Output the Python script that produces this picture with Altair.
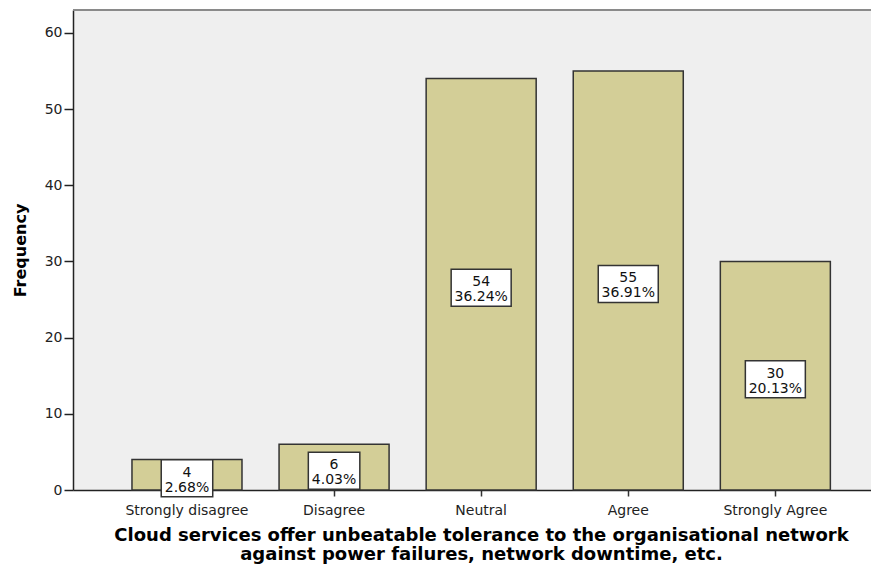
import altair as alt
import pandas as pd

categories = ["Strongly disagree", "Disagree", "Neutral", "Agree", "Strongly Agree"]
counts = [4, 6, 54, 55, 30]
percents = ["2.68%", "4.03%", "36.24%", "36.91%", "20.13%"]
y_ticks = [0, 10, 20, 30, 40, 50, 60]

df = pd.DataFrame({"cat": categories, "count": counts, "pct": percents})

FONT = "DejaVu Sans"
W, H = 798, 480

xscale = alt.Scale(domain=categories, paddingInner=0.252, paddingOuter=0.3386, align=0.592)
yscale = alt.Scale(domain=[0, 63], nice=False, zero=True)

x_axis = alt.Axis(
    title=["Cloud services offer unbeatable tolerance to the organisational network",
           "against power failures, network downtime, etc."],
    labelAngle=0, labelFont=FONT, labelFontSize=14, labelColor="#222",
    labelPadding=7, tickSize=6, tickColor="#333", tickWidth=1.5,
    domainColor="#222", domainWidth=1.5,
    titleFont=FONT, titleFontSize=18, titleFontWeight="bold",
    titleLineHeight=19, titlePadding=9, titleColor="#000", titleX=408,
)
y_axis = alt.Axis(
    title="Frequency", values=y_ticks, grid=False,
    labelFont=FONT, labelFontSize=14, labelColor="#222", labelPadding=2,
    tickSize=9, tickColor="#222", tickWidth=1.5,
    domainColor="#222", domainWidth=1.5,
    titleFont=FONT, titleFontSize=16, titleFontWeight="bold",
    titlePadding=16, titleColor="#000",
)

base = alt.Chart(df)

bars = base.mark_bar(fill="#D3CE97", stroke="#333", strokeWidth=1.5).encode(
    x=alt.X("cat:N", sort=categories, scale=xscale, axis=x_axis),
    y=alt.Y("count:Q", scale=yscale, axis=y_axis),
)

calc = base.transform_calculate(
    cnt="'' + datum.count",
    w="8.5 * length(datum.pct) + 9",
).transform_calculate(
    path="'M' + (-datum.w/2) + ',-18.5H' + (datum.w/2) + 'V18.5H' + (-datum.w/2) + 'Z'",
).transform_calculate(
    count="datum.count / 2",
)

xn = alt.X("cat:N", sort=categories, scale=xscale)
yh = alt.Y("count:Q", scale=yscale)

boxes = calc.mark_point(
    filled=True, fill="white", stroke="#333", strokeWidth=1.5, opacity=1, yOffset=3.5
).encode(
    x=xn, y=yh,
    shape=alt.Shape("path:N", scale=None, legend=None),
    size=alt.value(4),
)

txt1 = calc.mark_text(font=FONT, fontSize=14, color="#111", baseline="middle", dy=-2.2).encode(
    x=xn, y=yh, text="cnt:N"
)
txt2 = calc.mark_text(font=FONT, fontSize=14, color="#111", baseline="middle", dy=12.8).encode(
    x=xn, y=yh, text="pct:N"
)

top = alt.Chart(pd.DataFrame({"a": [0]})).mark_rule(color="#8a8a8a", strokeWidth=2).encode(
    x=alt.value(0), x2=alt.value(W), y=alt.value(0)
)

chart = alt.layer(bars, boxes, txt1, txt2, top).properties(
    width=W, height=H,
    autosize=alt.AutoSizeParams(type="none"),
    padding={"left": 65, "top": 2, "right": 0, "bottom": 74},
).configure_view(fill="#EFEFEF", stroke=None)

chart.save("out.html", embed_options={"renderer": "svg", "actions": False})
